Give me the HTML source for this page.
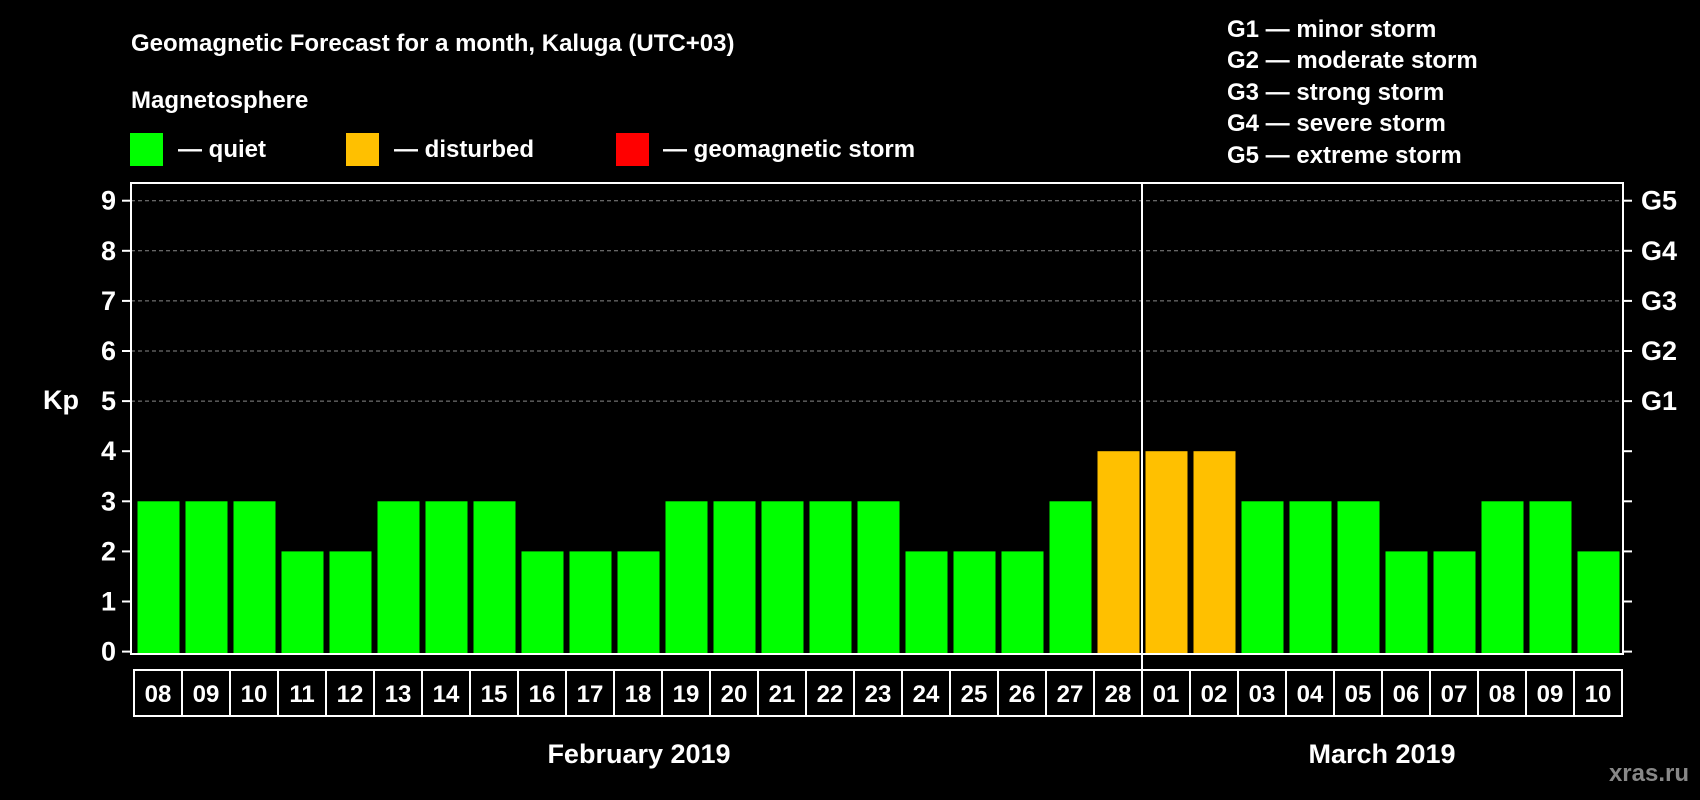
<!DOCTYPE html>
<html><head><meta charset="utf-8">
<style>
html,body{margin:0;padding:0;background:#000;}
svg{display:block;font-family:"Liberation Sans",Arial,sans-serif;font-weight:bold;}
</style></head>
<body>
<svg id="chart" width="1700" height="800" viewBox="0 0 1700 800">
<text x="131" y="51" fill="#fff" font-size="24">Geomagnetic Forecast for a month, Kaluga (UTC+03)</text>
<text x="131" y="108" fill="#fff" font-size="24">Magnetosphere</text>
<g>
<rect x="130" y="133" width="33" height="33" fill="#00ff00"/>
<text x="178" y="157" fill="#fff" font-size="24">— quiet</text></g>
<g>
<rect x="346" y="133" width="33" height="33" fill="#ffc000"/>
<text x="394" y="157" fill="#fff" font-size="24">— disturbed</text></g>
<g>
<rect x="616" y="133" width="33" height="33" fill="#ff0000"/>
<text x="663" y="157" fill="#fff" font-size="24">— geomagnetic storm</text></g>
<g fill="#fff" font-size="24">
<text x="1227" y="37">G1 — minor storm</text>
<text x="1227" y="68">G2 — moderate storm</text>
<text x="1227" y="100">G3 — strong storm</text>
<text x="1227" y="131">G4 — severe storm</text>
<text x="1227" y="163">G5 — extreme storm</text>
</g>
<text x="43" y="409" fill="#fff" font-size="27">Kp</text>
<g id="grid"></g>
<g id="bars"></g>
<rect x="131" y="183" width="1492" height="471" fill="none" stroke="#fff" stroke-width="2"/>
<g id="axes"></g>
<g id="dates"></g>
<text x="639" y="763" fill="#fff" font-size="27" text-anchor="middle">February 2019</text>
<text x="1382" y="763" fill="#fff" font-size="27" text-anchor="middle">March 2019</text>
<text x="1689" y="781" fill="#888" font-size="24" text-anchor="end">xras.ru</text>
</svg>
<script>
const days = ["08","09","10","11","12","13","14","15","16","17","18","19","20","21","22","23","24","25","26","27","28","01","02","03","04","05","06","07","08","09","10"];
const kpValues = [3,3,3,2,2,3,3,3,2,2,2,3,3,3,3,3,2,2,2,3,4,4,4,3,3,3,2,2,3,3,2];
const yTicks = [0,1,2,3,4,5,6,7,8,9];
const gLabels = ["G1","G2","G3","G4","G5"];
const monthBreak = 21;

const NS="http://www.w3.org/2000/svg";
const x0=133, cellW=48, y0=651.6, unit=50.1, boxBottom=654, boxTop=183, right=1623;
const xPos=i=>x0+i*cellW;
const yPos=v=>y0-v*unit;
function mk(tag,attrs,parent){const e=document.createElementNS(NS,tag);for(const k in attrs)e.setAttribute(k,attrs[k]);parent.appendChild(e);return e;}
const grid=document.getElementById('grid'),bars=document.getElementById('bars'),axes=document.getElementById('axes'),dates=document.getElementById('dates');

yTicks.forEach(v=>{
  const y=yPos(v);
  if(v>=5){const l=mk('line',{x1:131,x2:right,y1:y,y2:y,stroke:'#888','stroke-dasharray':'4,3','stroke-width':1},grid);
    
    }
  const t1=mk('line',{x1:122,x2:131,y1:y,y2:y,stroke:'#fff','stroke-width':2},axes);
  
  
  const t2=mk('line',{x1:right,x2:right+9,y1:y,y2:y,stroke:'#fff','stroke-width':2},axes);
  
  
  const tx=mk('text',{x:116,y:y+9,fill:'#fff','font-size':27,'text-anchor':'end'},axes);
  tx.textContent=v;
  
  
});
gLabels.forEach((g,i)=>{
  const tx=mk('text',{x:1641,y:yPos(5+i)+9,fill:'#fff','font-size':27},axes);
  tx.textContent=g;
  
  
});
kpValues.forEach((v,i)=>{
  const col=v>=5?'#ff0000':(v>=4?'#ffc000':'#00ff00');
  const r=mk('rect',{x:xPos(i)+4.5,y:yPos(v),width:42,height:boxBottom-yPos(v),fill:col},bars);
  
  
});
days.forEach((d,i)=>{
  const c=mk('rect',{x:xPos(i)+1,y:670,width:cellW,height:46,fill:'none',stroke:'#fff','stroke-width':2},dates);
  
  
  const t=mk('text',{x:xPos(i)+1+cellW/2,y:702,fill:'#fff','font-size':24,'text-anchor':'middle'},dates);
  t.textContent=d;
  
  
});
const div=mk('line',{x1:xPos(monthBreak)+1,x2:xPos(monthBreak)+1,y1:boxTop,y2:716,stroke:'#fff','stroke-width':2},axes);


</script>
</body></html>
